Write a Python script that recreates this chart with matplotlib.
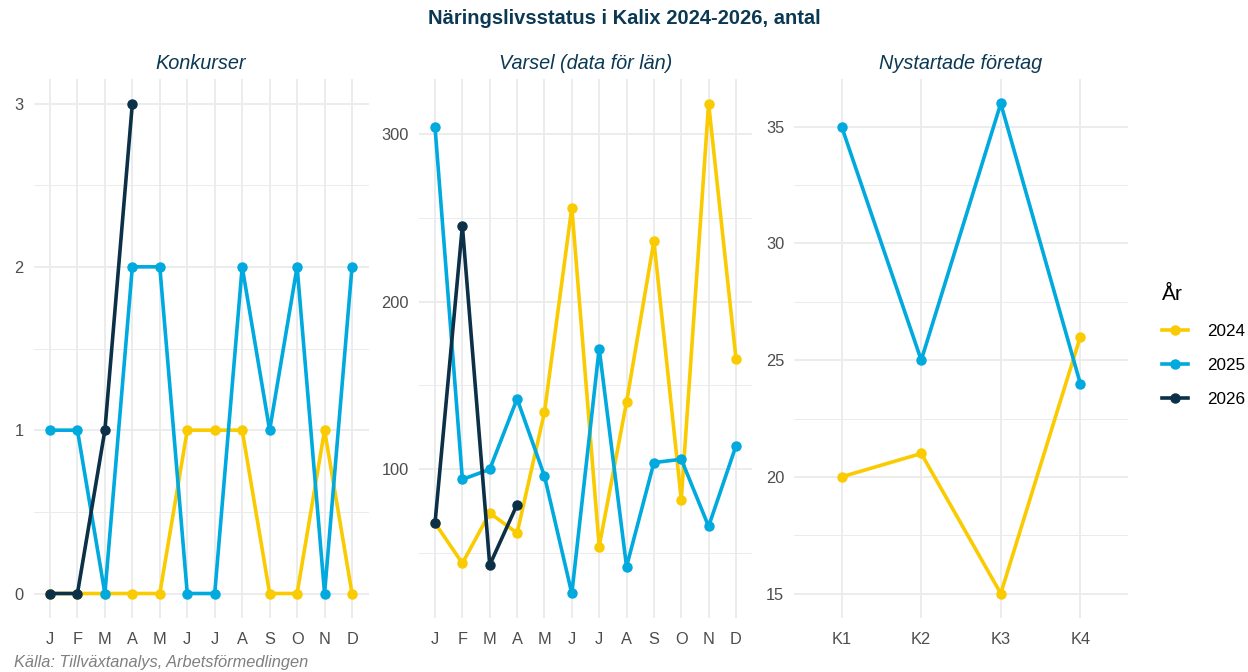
import matplotlib
matplotlib.use("Agg")
import matplotlib.pyplot as plt
from matplotlib.lines import Line2D
from matplotlib.ticker import MultipleLocator

plt.rcParams['font.family'] = ['Liberation Sans', 'DejaVu Sans']

months = ["J", "F", "M", "A", "M", "J", "J", "A", "S", "O", "N", "D"]
quarters = ["K1", "K2", "K3", "K4"]
years = ["2024", "2025", "2026"]
colors = {"2024": "#FACB00", "2025": "#00A9DE", "2026": "#0B3048"}

konkurser = {
    "2024": [0, 0, 0, 0, 0, 1, 1, 1, 0, 0, 1, 0],
    "2025": [1, 1, 0, 2, 2, 0, 0, 2, 1, 2, 0, 2],
    "2026": [0, 0, 1, 3],
}
varsel = {
    "2024": [68, 44, 74, 62, 134, 256, 54, 140, 236, 82, 318, 166],
    "2025": [304, 94, 100, 142, 96, 26, 172, 42, 104, 106, 66, 114],
    "2026": [68, 245, 43, 79],
}
nystartade = {
    "2024": [20, 21, 15, 26],
    "2025": [35, 25, 36, 24],
}

title_color = "#0B3954"
grid_color = "#EBEBEB"
tick_color = "#4D4D4D"

fig = plt.figure(figsize=(12.48, 6.72), dpi=100)
H = 672.0
W = 1248.0
bottom = 1 - 618 / H
top = 1 - 79 / H
height = top - bottom
panels = [(33.5, 368.5), (418.6, 752.4), (794, 1128)]
axes = [fig.add_axes([x0 / W, bottom, (x1 - x0) / W, height]) for x0, x1 in panels]


def style(ax, major, minor):
    for s in ax.spines.values():
        s.set_visible(False)
    ax.yaxis.set_major_locator(MultipleLocator(major))
    ax.yaxis.set_minor_locator(MultipleLocator(minor))
    ax.grid(True, which="major", color=grid_color, lw=1.3, zorder=0)
    ax.grid(True, which="minor", axis="y", color=grid_color, lw=0.7, zorder=0)
    ax.tick_params(axis="both", which="both", length=0, labelsize=11.8,
                   labelcolor=tick_color)
    ax.tick_params(axis="x", pad=10)
    ax.tick_params(axis="y", pad=7)
    ax.set_axisbelow(True)


def draw(ax, data, labels):
    for i, y in enumerate(years):
        if y not in data:
            continue
        vals = data[y]
        ax.plot(range(len(vals)), vals, color=colors[y], lw=2.6,
                marker="o", ms=6.5, zorder=3 + i, solid_capstyle="round")
    ax.set_xticks(range(len(labels)))
    ax.set_xticklabels(labels)
    ax.set_xlim(-0.6, len(labels) - 1 + 0.6)


def ylim(ax, lo, hi):
    pad = (hi - lo) * 0.05
    ax.set_ylim(lo - pad, hi + pad)


ax1, ax2, ax3 = axes
draw(ax1, konkurser, months)
style(ax1, 1, 0.5)
ylim(ax1, 0, 3)

draw(ax2, varsel, months)
style(ax2, 100, 50)
ylim(ax2, 26, 318)

draw(ax3, nystartade, quarters)
style(ax3, 5, 2.5)
ylim(ax3, 15, 36)

subtitles = ["Konkurser", "Varsel (data för län)", "Nystartade företag"]
for ax, st in zip(axes, subtitles):
    ax.set_title(st, fontsize=14.3, style="italic", color=title_color, pad=7)

fig.text(0.5, 1 - 18 / H, "Näringslivsstatus i Kalix 2024-2026, antal",
         ha="center", va="center", fontsize=14.5, fontweight="bold", color=title_color)

fig.text(14 / W, 1 - 663 / H, "Källa: Tillväxtanalys, Arbetsförmedlingen",
         ha="left", va="center", fontsize=11.8, style="italic", color="#808080")

handles = [Line2D([0], [0], color=colors[y], lw=2.6, marker="o", ms=6.5) for y in years]
leg = fig.legend(handles, years, title="År", loc="center left",
                 bbox_to_anchor=(1147 / W, 1 - 346 / H), frameon=False,
                 fontsize=12.3, title_fontsize=15, handlelength=1.5,
                 labelspacing=1.1, handletextpad=1.1)
leg._legend_box.align = "left"
leg._legend_box.sep = 14

fig.savefig("out.png", dpi=100, facecolor="white")
